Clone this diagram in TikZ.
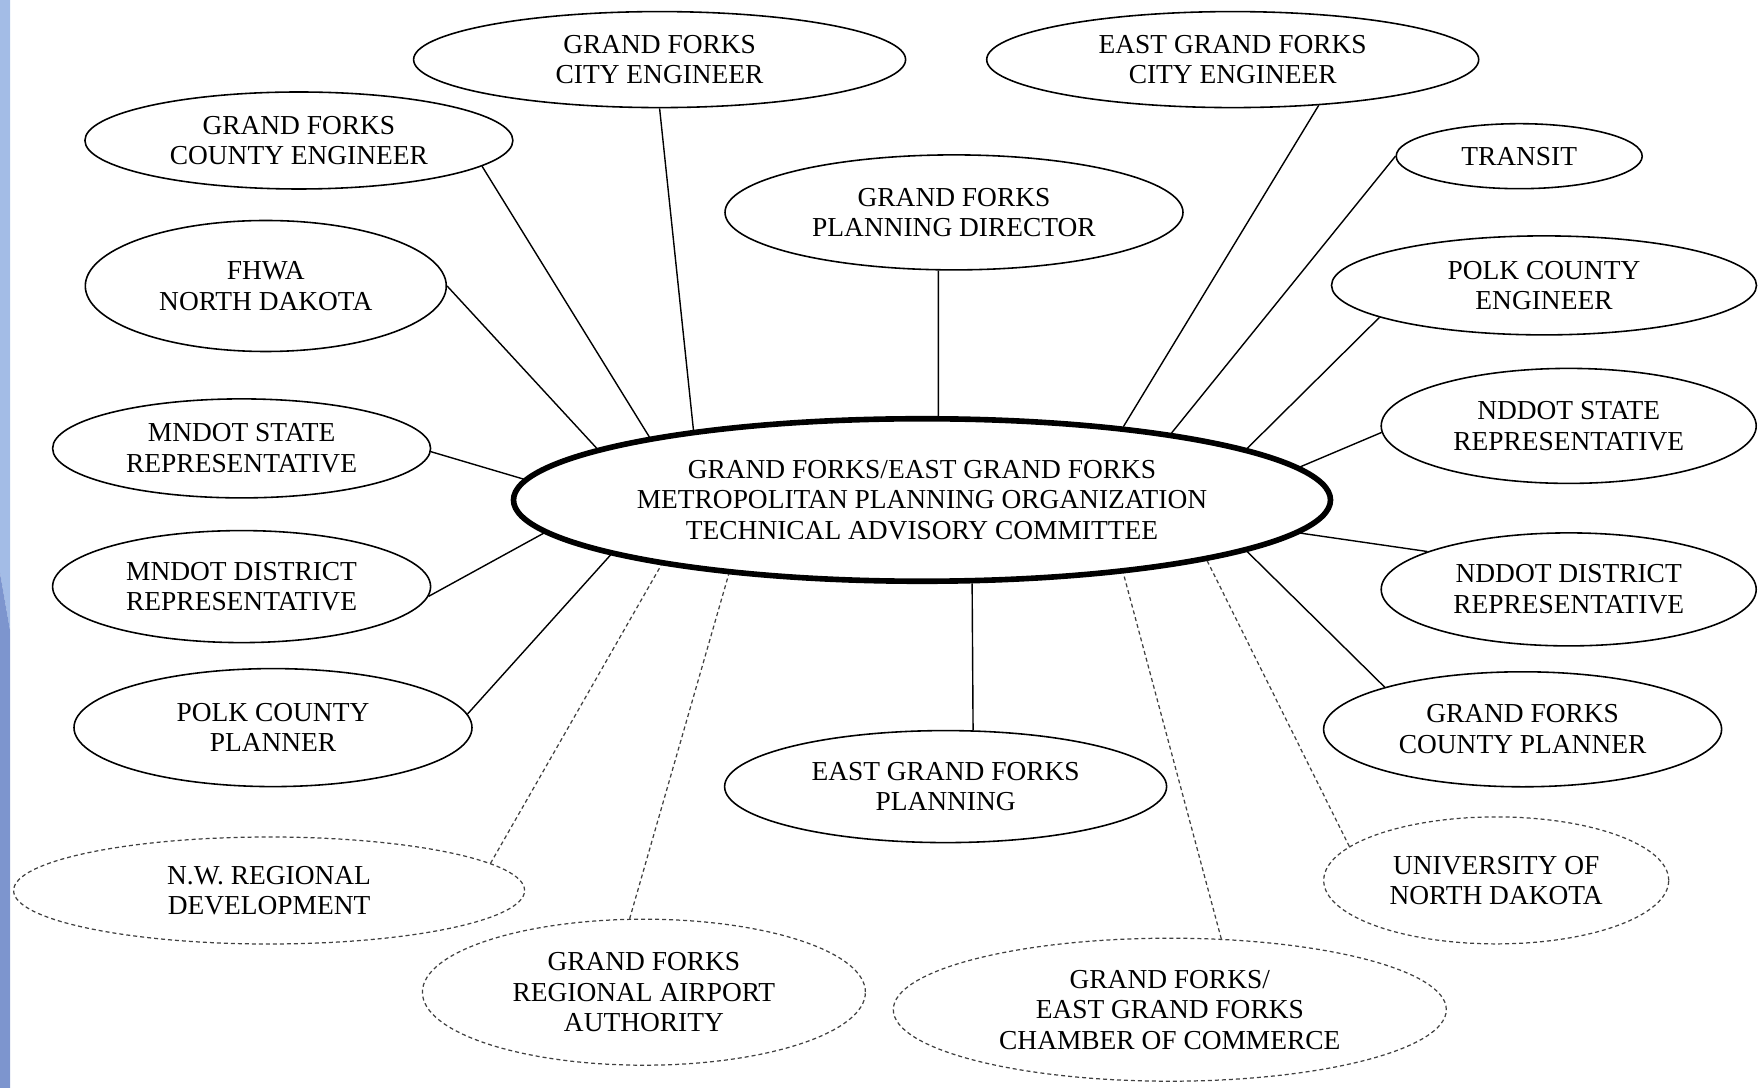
\documentclass[tikz,border=0pt]{standalone}
\usepackage{fontspec}
\setmainfont{Liberation Serif}
\usetikzlibrary{shapes.geometric}

\definecolor{stripup}{HTML}{A3BCE6}
\definecolor{stripdown}{HTML}{7D95CE}

\tikzset{%
  member/.style={draw, ellipse, line width=0.45pt, inner sep=0pt, align=center, font=\fontsize{7.8}{8.7}\selectfont},
  guest/.style={member, draw=black!75, line width=0.35pt, dash pattern=on 0.4mm off 0.3mm},
  committee/.style={member, line width=1.6pt},
  link/.style={draw, line width=0.4pt},
  linkguest/.style={draw, black!75, line width=0.35pt, dash pattern=on 0.4mm off 0.3mm},
}

\begin{document}
\begin{tikzpicture}[x=0.1mm, y=-0.1mm]
\useasboundingbox (0,0) rectangle (1762,1088);
\fill[stripup] (0,0) -- (10,0) -- (10,630) -- (0,573) -- cycle;
\fill[stripdown] (0,573) -- (10,630) -- (10,1088) -- (0,1088) -- cycle;

\node[committee, minimum width=81.7mm, minimum height=16.25mm] (tac) at (922,500) {GRAND FORKS/EAST GRAND FORKS\\METROPOLITAN PLANNING ORGANIZATION\\TECHNICAL ADVISORY COMMITTEE};

\node[member, minimum width=49.2mm, minimum height=9.6mm] (gfcity) at (659.6,59.6) {GRAND FORKS\\CITY ENGINEER};
\node[member, minimum width=49.2mm, minimum height=9.6mm] (egfcity) at (1232.7,59.6) {EAST GRAND FORKS\\CITY ENGINEER};
\node[member, minimum width=42.8mm, minimum height=9.7mm] (gfcounty) at (298.9,140.5) {GRAND FORKS\\COUNTY ENGINEER};
\node[member, minimum width=24.6mm, minimum height=6.5mm] (transit) at (1519.2,156.2) {TRANSIT};
\node[member, minimum width=45.8mm, minimum height=11.5mm] (gfplan) at (954,212.4) {GRAND FORKS\\PLANNING DIRECTOR};
\node[member, minimum width=36.1mm, minimum height=13.1mm] (fhwa) at (265.8,286) {FHWA\\NORTH DAKOTA};
\node[member, minimum width=42.5mm, minimum height=9.9mm] (polkeng) at (1544,285.4) {POLK COUNTY\\ENGINEER};
\node[member, minimum width=37.8mm, minimum height=9.9mm] (mnstate) at (241.6,448.4) {MNDOT STATE\\REPRESENTATIVE};
\node[member, minimum width=37.5mm, minimum height=11.5mm] (ndstate) at (1568.7,425.9) {NDDOT STATE\\REPRESENTATIVE};
\node[member, minimum width=37.8mm, minimum height=11.2mm] (mndist) at (241.6,586.6) {MNDOT DISTRICT\\REPRESENTATIVE};
\node[member, minimum width=37.5mm, minimum height=11.3mm] (nddist) at (1568.7,589.4) {NDDOT DISTRICT\\REPRESENTATIVE};
\node[member, minimum width=39.8mm, minimum height=11.8mm] (polkplan) at (273,727.6) {POLK COUNTY\\PLANNER};
\node[member, minimum width=39.8mm, minimum height=11.5mm] (gfcoplan) at (1522.6,729.3) {GRAND FORKS\\COUNTY PLANNER};
\node[member, minimum width=44.2mm, minimum height=11.2mm] (egfplan) at (945.6,786.6) {EAST GRAND FORKS\\PLANNING};

\node[guest, minimum width=51.1mm, minimum height=10.7mm] (nwreg) at (269.1,890.5) {N.W. REGIONAL\\DEVELOPMENT};
\node[guest, minimum width=34.5mm, minimum height=12.7mm] (und) at (1496.2,880.4) {UNIVERSITY OF\\NORTH DAKOTA};
\node[guest, minimum width=44.3mm, minimum height=14.6mm] (airport) at (643.9,992.2) {GRAND FORKS\\REGIONAL AIRPORT\\AUTHORITY};
\node[guest, minimum width=55.3mm, minimum height=14.3mm] (chamber) at (1169.8,1009.7) {GRAND FORKS/\\EAST GRAND FORKS\\CHAMBER OF COMMERCE};

\draw[link] (gfcity.-90) -- (tac.163.2);
\draw[link] (gfcounty.-8.85) -- (tac.167.3);
\draw[link] (fhwa.-0.7) -- (tac.171.2);
\draw[link] (mnstate.-1) -- (tac.177.2);
\draw[link] (mndist.-3.3) -- (tac.185.1);
\draw[link] (polkplan.4.7) -- (tac.190.2);
\draw[link] (gfplan.-105.3) -- (tac.79);
\draw[link] (egfplan.64.6) -- (tac.-59.05);
\draw[link] (gfcoplan.163.8) -- (tac.-9.12);
\draw[link] (nddist.165) -- (tac.-5);
\draw[link] (ndstate.182.8) -- (tac.5.07);
\draw[link] (polkeng.191.1) -- (tac.9.75);
\draw[link] (transit.180.6) -- (tac.15.21);
\draw[link] (egfcity.-28.9) -- (tac.20);
\draw[linkguest] (nwreg.7.9) -- (tac.194.5);
\draw[linkguest] (airport.101.3) -- (tac.201.4);
\draw[linkguest] (chamber.54.7) -- (tac.-20.2);
\draw[linkguest] (und.167.2) -- (tac.-12.73);
\end{tikzpicture}
\end{document}
